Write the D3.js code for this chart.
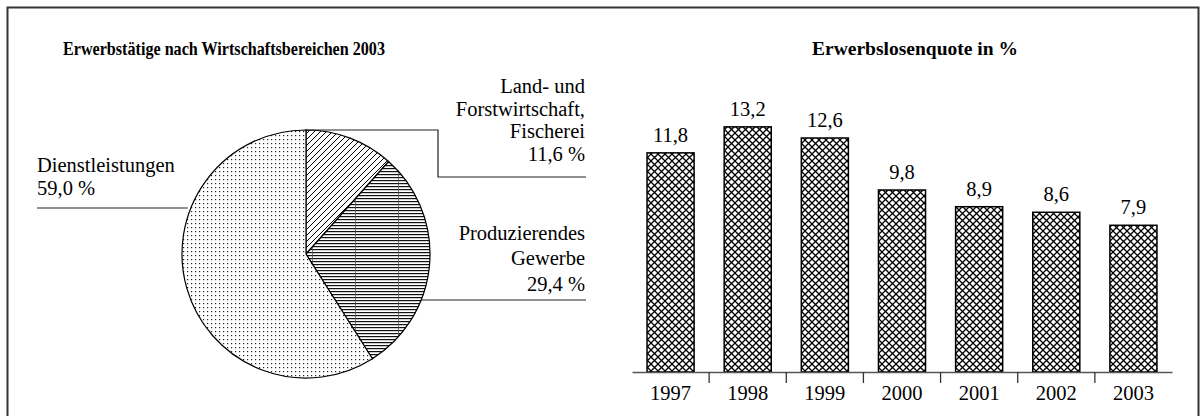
<!DOCTYPE html>
<html>
<head>
<meta charset="utf-8">
<script src="https://cdn.jsdelivr.net/npm/d3@7"></script>
<style>
  body { margin: 0; background: #fff; }
  svg { display: block; }
</style>
</head>
<body>
<svg id="chart" width="1203" height="416"></svg>
<script>
// pie data
const pieCategories = ['Land- und Forstwirtschaft, Fischerei', 'Produzierendes Gewerbe', 'Dienstleistungen'];
const pieValues = [11.6, 29.4, 59.0];
const pieLabelLines = [
  ['Land- und', 'Forstwirtschaft,', 'Fischerei'],
  ['Produzierendes', 'Gewerbe'],
  ['Dienstleistungen']
];
const pieTitle = 'Erwerbstätige nach Wirtschaftsbereichen 2003';

// bar data
const barYears = ['1997', '1998', '1999', '2000', '2001', '2002', '2003'];
const barValues = [11.8, 13.2, 12.6, 9.8, 8.9, 8.6, 7.9];
const barTitle = 'Erwerbslosenquote in %';

const serif = "'Liberation Serif'";
const fs = 20.5;
const svg = d3.select('#chart');
const fmt = (v) => d3.format('.1f')(v).replace('.', ',');

// patterns
const defs = svg.append('defs');
const cross = defs.append('pattern').attr('id', 'cross')
  .attr('patternUnits', 'userSpaceOnUse').attr('width', 7).attr('height', 7);
cross.append('rect').attr('width', 7).attr('height', 7).attr('fill', '#fff');
cross.append('path').attr('d', 'M-1,-1L8,8M-1,8L8,-1').attr('stroke', '#000').attr('stroke-width', 1.3);

const diag = defs.append('pattern').attr('id', 'diag')
  .attr('patternUnits', 'userSpaceOnUse').attr('width', 6).attr('height', 6);
diag.append('rect').attr('width', 6).attr('height', 6).attr('fill', '#fff');
diag.append('path').attr('d', 'M-1,7L7,-1M-1,1L1,-1M5,7L7,5').attr('stroke', '#000').attr('stroke-width', 1);

const horiz = defs.append('pattern').attr('id', 'horiz')
  .attr('patternUnits', 'userSpaceOnUse').attr('width', 43).attr('height', 3);
horiz.append('rect').attr('width', 43).attr('height', 3).attr('fill', '#fff');
horiz.append('rect').attr('y', 1).attr('width', 43).attr('height', 1.2).attr('fill', '#111');
horiz.append('rect').attr('x', 6).attr('width', 0.8).attr('height', 3).attr('fill', '#555');

const dots = defs.append('pattern').attr('id', 'dots')
  .attr('patternUnits', 'userSpaceOnUse').attr('width', 4).attr('height', 4);
dots.append('rect').attr('width', 4).attr('height', 4).attr('fill', '#fff');
dots.append('rect').attr('x', 1).attr('y', 1).attr('width', 1.2).attr('height', 1.2).attr('fill', '#222');

const fills = ['url(#diag)', 'url(#horiz)', 'url(#dots)'];

// frame
svg.append('rect')
  .attr('x', 7.5).attr('y', 7.5).attr('width', 1191).attr('height', 430)
  .attr('fill', 'none').attr('stroke', '#333').attr('stroke-width', 2);

// ---------- pie ----------
const cx = 306, cy = 254, r = 124;
const pieG = svg.append('g').attr('transform', `translate(${cx},${cy})`);
const pie = d3.pie().sort(null).value((d) => d)(pieValues);
const arc = d3.arc().innerRadius(0).outerRadius(r);

pieG.selectAll('path.slice')
  .data(pie)
  .enter()
  .append('path')
  .attr('class', 'slice')
  .attr('d', arc)
  .attr('fill', (d, i) => fills[i])
  .attr('stroke', '#000')
  .attr('stroke-width', 1.2);

svg.append('text')
  .attr('x', 224).attr('y', 55)
  .attr('text-anchor', 'middle')
  .attr('font-family', serif)
  .attr('font-weight', 'bold')
  .attr('font-size', 19.5)
  .attr('textLength', 322)
  .attr('lengthAdjust', 'spacingAndGlyphs')
  .text(pieTitle);

const lead = svg.append('g').attr('fill', 'none').attr('stroke', '#222').attr('stroke-width', 1.2);
const edgeX = (yy, side) => cx + side * Math.sqrt(r * r - (yy - cy) * (yy - cy));

// Land- und Forstwirtschaft leader
lead.append('path').attr('d', `M${cx},${cy - r}H438V177H586`);
// Produzierendes leader
lead.append('path').attr('d', `M${edgeX(300, 1)},300H586`);
// Dienstleistungen leader
lead.append('path').attr('d', `M37,208H${edgeX(208, -1) - 3}`);

function multiLabel(lines, xPos, yPos, lineH, anchor) {
  const t = svg.append('text')
    .attr('font-family', serif)
    .attr('font-size', fs)
    .attr('text-anchor', anchor);
  lines.forEach((s, i) => {
    t.append('tspan').attr('x', xPos).attr('y', yPos + i * lineH).text(s);
  });
}
multiLabel(pieLabelLines[0].concat([fmt(pieValues[0]) + ' %']), 585, 93, 22.6, 'end');
multiLabel(pieLabelLines[1].concat([fmt(pieValues[1]) + ' %']), 585, 240, 25.4, 'end');
multiLabel(pieLabelLines[2].concat([fmt(pieValues[2]) + ' %']), 37, 172, 23, 'start');

// ---------- bars ----------
const x = d3.scaleBand().domain(barYears).range([632, 1172])
  .paddingInner(0.39).paddingOuter(0.195);
const y = d3.scaleLinear().domain([0, 14]).range([372, 112]);

svg.append('text')
  .attr('x', 915).attr('y', 55)
  .attr('text-anchor', 'middle')
  .attr('font-family', serif)
  .attr('font-weight', 'bold')
  .attr('font-size', 19.5)
  .text(barTitle);

svg.selectAll('rect.bar')
  .data(barValues)
  .enter()
  .append('rect')
  .attr('class', 'bar')
  .attr('x', (d, i) => x(barYears[i]))
  .attr('y', (d) => y(d))
  .attr('width', x.bandwidth())
  .attr('height', (d) => y(0) - y(d))
  .attr('fill', 'url(#cross)')
  .attr('stroke', '#000')
  .attr('stroke-width', 1.5);

svg.selectAll('text.val')
  .data(barValues)
  .enter()
  .append('text')
  .attr('class', 'val')
  .attr('x', (d, i) => x(barYears[i]) + x.bandwidth() / 2)
  .attr('y', (d) => y(d) - 11)
  .attr('text-anchor', 'middle')
  .attr('font-family', serif)
  .attr('font-size', fs)
  .text((d) => fmt(d));

const xAxis = svg.append('g')
  .attr('transform', `translate(0,${y(0)})`)
  .call(d3.axisBottom(x).tickSize(0).tickSizeOuter(0).tickPadding(13));
xAxis.attr('font-family', serif).attr('font-size', fs);
xAxis.select('.domain').attr('stroke', '#555').attr('stroke-width', 1.6);
xAxis.selectAll('text').attr('fill', '#000');

// separator ticks between categories
const step = x.step();
xAxis.selectAll('line.sep')
  .data(barYears.slice(1))
  .enter()
  .append('line')
  .attr('class', 'sep')
  .attr('x1', (d) => x(d) - step * x.paddingInner() / 2)
  .attr('x2', (d) => x(d) - step * x.paddingInner() / 2)
  .attr('y1', 0).attr('y2', 11)
  .attr('stroke', '#333').attr('stroke-width', 1.3);
</script>
</body>
</html>
